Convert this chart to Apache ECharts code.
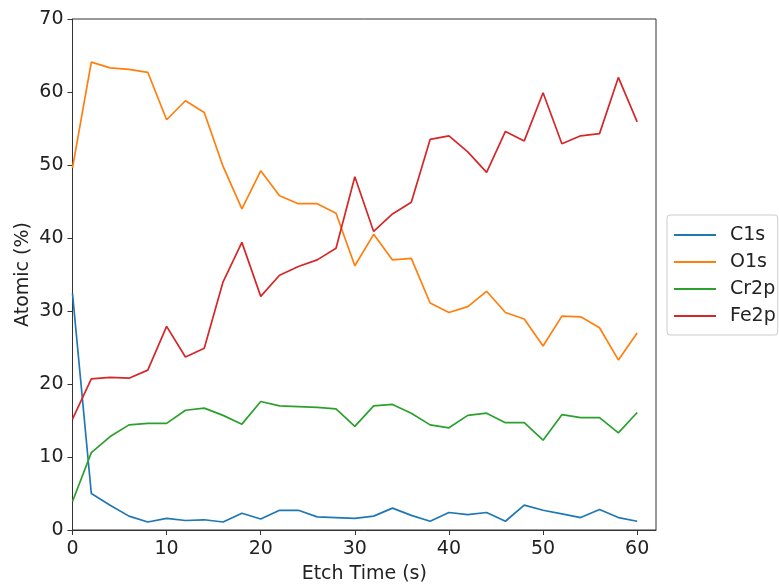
<!DOCTYPE html>
<html>
<head>
<meta charset="utf-8">
<script src="https://cdn.jsdelivr.net/npm/echarts@6/dist/echarts.min.js"></script>
<style>html,body{margin:0;padding:0;background:#fff}#c{width:779px;height:586px}</style>
</head>
<body>
<div id="c"></div>
<script>
const etchTime = [0,2,4,6,8,10,12,14,16,18,20,22,24,26,28,30,32,34,36,38,40,42,44,46,48,50,52,54,56,58,60];
const C1s  = [32.4,5.0,3.4,1.9,1.1,1.6,1.3,1.4,1.1,2.3,1.5,2.7,2.7,1.8,1.7,1.6,1.9,3.0,2.0,1.2,2.4,2.1,2.4,1.2,3.4,2.7,2.2,1.7,2.8,1.7,1.2];
const O1s  = [49.6,64.1,63.3,63.1,62.7,56.2,58.8,57.2,49.8,44.0,49.2,45.8,44.7,44.7,43.4,36.2,40.5,37.0,37.2,31.1,29.8,30.6,32.7,29.8,28.9,25.2,29.3,29.2,27.7,23.3,27.0];
const Cr2p = [3.9,10.6,12.8,14.4,14.6,14.6,16.4,16.7,15.7,14.5,17.6,17.0,16.9,16.8,16.6,14.2,17.0,17.2,16.0,14.4,14.0,15.7,16.0,14.7,14.7,12.3,15.8,15.4,15.4,13.3,16.1];
const Fe2p = [15.2,20.7,20.9,20.8,21.9,27.9,23.7,24.9,34.0,39.4,32.0,34.9,36.1,37.0,38.6,48.4,40.9,43.3,44.9,53.5,54.0,51.8,49.0,54.6,53.3,59.9,52.9,54.0,54.3,62.0,55.9];
const xTicks = [0,10,20,30,40,50,60];
const yTicks = [0,10,20,30,40,50,60,70];

const names = ['C1s','O1s','Cr2p','Fe2p'];
const values = [C1s,O1s,Cr2p,Fe2p];
const colors = ['#1f77b4','#ff7f0e','#2ca02c','#d62728'];
const font = 'DejaVu Sans';

const chart = echarts.init(document.getElementById('c'), null, {renderer:'canvas'});
chart.setOption({
  animation:false,
  backgroundColor:'#fff',
  grid:{left:72.5,right:123,top:19,bottom:56,show:true,borderColor:'#333',borderWidth:1,backgroundColor:'transparent',containLabel:false,outerBoundsMode:'none'},
  xAxis:{
    type:'value',min:0,max:62,interval:10,
    name:'Etch Time (s)',nameLocation:'middle',nameGap:35,
    nameTextStyle:{fontFamily:font,fontSize:19,color:'#222'},
    axisLine:{show:true,lineStyle:{color:'#333',width:1}},
    axisTick:{show:true,inside:false,length:5,lineStyle:{color:'#333'},customValues:xTicks},
    axisLabel:{fontFamily:font,fontSize:19,color:'#222',margin:10,customValues:xTicks},
    splitLine:{show:false}
  },
  yAxis:{
    type:'value',min:0,max:70,interval:10,
    name:'Atomic (%)',nameLocation:'middle',nameGap:40,nameRotate:90,nameMoveOverlap:false,
    nameTextStyle:{fontFamily:font,fontSize:19,color:'#222'},
    axisLine:{show:true,lineStyle:{color:'#333',width:1}},
    axisTick:{show:true,inside:false,length:5,lineStyle:{color:'#333'},customValues:yTicks},
    axisLabel:{fontFamily:font,fontSize:19,color:'#222',margin:9,customValues:yTicks},
    splitLine:{show:false}
  },
  legend:{
    orient:'vertical',left:667,top:215,
    padding:[9,2,8,7],itemGap:5,itemWidth:42,itemHeight:2,icon:'rect',
    borderColor:'#ccc',borderWidth:1,borderRadius:3,backgroundColor:'#fff',
    textStyle:{fontFamily:font,fontSize:19,color:'#222',lineHeight:22,padding:[0,0,0,9]},
    data:names
  },
  series: names.map((n,i)=>({
    name:n,type:'line',symbol:'none',
    data: etchTime.map((t,j)=>[t,values[i][j]]),
    lineStyle:{color:colors[i],width:1.7},
    itemStyle:{color:colors[i]}
  }))
});
</script>
</body>
</html>
